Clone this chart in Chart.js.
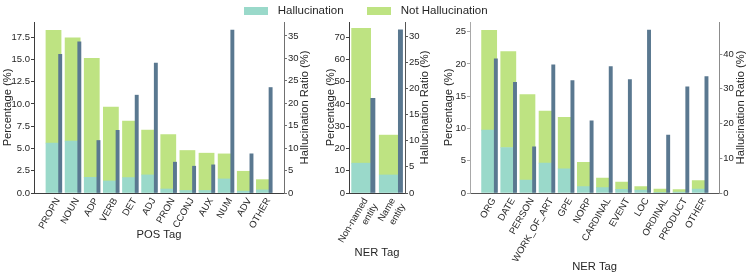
<!DOCTYPE html>
<html><head><meta charset="utf-8">
<script src="https://cdn.jsdelivr.net/npm/chart.js@4"></script>
<style>
html,body{margin:0;padding:0;background:#fff;}
#wrap{position:relative;width:747px;height:275px;overflow:hidden;font-family:"Liberation Sans",Arial,sans-serif;color:#262626}
canvas{position:absolute;top:0}
.sw{position:absolute;top:7px;width:23.5px;height:8px}
.lt{position:absolute;top:5.3px;font-size:11.5px;line-height:11.5px;white-space:nowrap}
</style></head><body>
<div id="wrap">
<canvas id="c1" width="320" height="275" style="left:0"></canvas>
<canvas id="c2" width="116" height="275" style="left:320px"></canvas>
<canvas id="c3" width="311" height="275" style="left:436px"></canvas>
<div class="sw" style="left:244px;background:#9ad9ca"></div><div class="lt" style="left:277.7px">Hallucination</div>
<div class="sw" style="left:367.3px;background:#bee382"></div><div class="lt" style="left:400.7px">Not Hallucination</div>
</div>
<script>
// ---- data ----
const posTags = ['PROPN','NOUN','ADP','VERB','DET','ADJ','PRON','CCONJ','AUX','NUM','ADV','OTHER'];
const posHalluc = [5.6, 5.82, 1.76, 1.35, 1.73, 2.03, 0.45, 0.28, 0.28, 1.58, 0.21, 0.35];
const posNotHalluc = [12.65, 11.6, 13.34, 8.3, 6.34, 5.03, 6.12, 4.49, 4.19, 2.81, 2.23, 1.15];
const posRatio = [30.9, 33.7, 11.7, 13.96, 21.8, 28.96, 6.87, 5.97, 6.27, 36.3, 8.73, 23.5];

const entTags = [['Non-named','entity'], ['Name','entity']];
const entHalluc = [13.4, 8.1];
const entNotHalluc = [60.6, 17.9];
const entRatio = [18.1, 31.2];

const nerTags = ['ORG','DATE','PERSON','WORK_OF_ART','GPE','NORP','CARDINAL','EVENT','LOC','ORDINAL','PRODUCT','OTHER'];
const nerHalluc = [9.75, 7.05, 2.02, 4.62, 3.73, 0.99, 0.83, 0.57, 0.47, 0.1, 0.16, 0.62];
const nerNotHalluc = [15.45, 14.85, 13.23, 8.08, 7.99, 3.78, 1.5, 1.14, 0.52, 0.52, 0.36, 1.3];
const nerRatio = [38.65, 31.9, 13.3, 36.9, 32.4, 20.8, 36.4, 32.7, 46.9, 16.7, 30.6, 33.5];

// ---- style ----
const TEAL = '#9ad9ca', GREEN = '#bee382', DARK = '#5a7890';
const TXT = '#262626';
Chart.defaults.font.family = "'Liberation Sans', Arial, sans-serif";
Chart.defaults.color = TXT;
const tickFont = {size: 9.5};
const titleFont = {size: 11.2};

const rightTitle = {
  id: 'rightTitle',
  afterDraw(chart, args, opts) {
    const a = chart.chartArea, ctx = chart.ctx;
    ctx.save();
    ctx.font = titleFont.size + "px 'Liberation Sans', Arial, sans-serif";
    ctx.fillStyle = TXT;
    ctx.translate(opts.x, (a.top + a.bottom) / 2);
    ctx.rotate(-Math.PI / 2);
    ctx.textAlign = 'center';
    ctx.textBaseline = 'middle';
    ctx.fillText(opts.text, 0, 0);
    ctx.restore();
  }
};

function makePanel(id, p) {
  const H = 275;
  const plotW = p.canvasW - p.leftW - p.rightW;
  const unit = plotW / (p.xMax - p.xMin);
  new Chart(document.getElementById(id), {
    type: 'bar',
    data: {
      datasets: [
        {label: 'Hallucination', data: p.halluc.map((v, i) => ({x: i, y: v})), backgroundColor: TEAL,
         yAxisID: 'y', stack: 's', grouped: false, barThickness: p.greenW * unit, order: 1},
        {label: 'Not Hallucination', data: p.notH.map((v, i) => ({x: i, y: v})), backgroundColor: GREEN,
         yAxisID: 'y', stack: 's', grouped: false, barThickness: p.greenW * unit, order: 1},
        {label: 'Hallucination Ratio', data: p.ratio.map((v, i) => ({x: i + p.darkOff, y: v})), backgroundColor: DARK,
         yAxisID: 'y2', stack: 'r', grouped: false, barThickness: p.darkW * unit, order: -1}
      ]
    },
    options: {
      responsive: false, animation: false, devicePixelRatio: 1,
      layout: {padding: {top: 22, left: 0, right: 0, bottom: 0}},
      plugins: {legend: {display: false}, tooltip: {enabled: false},
                rightTitle: {x: p.rtX, text: 'Hallucination Ratio (%)'}},
      scales: {
        x: {type: 'linear', position: 'bottom', min: p.xMin, max: p.xMax, offset: false,
            afterBuildTicks: s => { s.ticks = p.labels.map((_, i) => ({value: i})); },
            ticks: {autoSkip: false, minRotation: 60, maxRotation: 60, padding: 3, labelOffset: 4.5,
                    font: tickFont, color: TXT, callback: v => p.labels[v]},
            grid: {display: false, drawTicks: false},
            border: {display: true, color: p.bottomC, width: 1},
            title: {display: true, text: p.xTitle, font: titleFont, color: TXT, padding: {top: 0, bottom: p.xTitlePad}},
            afterFit: s => { s.height = H - 193; s.paddingLeft = 0; s.paddingRight = 0; }},
        y: {type: 'linear', position: 'left', min: 0, max: p.yMax, stacked: true,
            ticks: {stepSize: p.yStep, includeBounds: false, font: tickFont, color: TXT, padding: 1,
                    callback: p.yFmt},
            grid: {display: true, drawOnChartArea: false, drawTicks: true, tickLength: 3, color: p.leftC},
            border: {display: true, color: p.leftC, width: 1},
            title: {display: true, text: 'Percentage (%)', font: titleFont, color: TXT, padding: {top: p.ltPad, bottom: 0}},
            afterFit: s => { s.width = p.leftW; }},
        y2: {type: 'linear', position: 'right', min: 0, max: p.y2Max,
            ticks: {stepSize: p.y2Step, includeBounds: false, font: tickFont, color: TXT, padding: 1},
            grid: {display: true, drawOnChartArea: false, drawTicks: true, tickLength: 3, color: p.rightC},
            border: {display: true, color: p.rightC, width: 1},
            title: {display: false, text: 'Hallucination Ratio (%)'},
            afterFit: s => { s.width = p.rightW; }}
      }
    },
    plugins: [rightTitle]
  });
}

makePanel('c1', {canvasW: 320, labels: posTags, halluc: posHalluc, notH: posNotHalluc, ratio: posRatio,
  xMin: -1.02, xMax: 12.05, greenW: 0.79, darkW: 0.17, darkOff: 0.35,
  yMax: 19.19, yStep: 2.5, yFmt: v => v.toFixed(1), y2Max: 38.1, y2Step: 5,
  leftW: 34, rightW: 36, leftC: '#3d3d3d', rightC: '#707070', bottomC: '#3d3d3d',
  xTitle: 'POS Tag', xTitlePad: 33.8, ltPad: 0.8, rtX: 304.5});

makePanel('c2', {canvasW: 116, labels: entTags, halluc: entHalluc, notH: entNotHalluc, ratio: entRatio,
  xMin: -0.44, xMax: 1.59, greenW: 0.69, darkW: 0.155, darkOff: 0.425,
  yMax: 76.8, yStep: 10, yFmt: v => String(v), y2Max: 32.7, y2Step: 5,
  leftW: 29, rightW: 31, leftC: '#3d3d3d', rightC: '#555555', bottomC: '#3d3d3d',
  xTitle: 'NER Tag', xTitlePad: 15.3, ltPad: 3.8, rtX: 105});

makePanel('c3', {canvasW: 311, labels: nerTags, halluc: nerHalluc, notH: nerNotHalluc, ratio: nerRatio,
  xMin: -1.0, xMax: 12.02, greenW: 0.79, darkW: 0.17, darkOff: 0.35,
  yMax: 26.5, yStep: 5, yFmt: v => String(v), y2Max: 49.25, y2Step: 10,
  leftW: 34, rightW: 27.7, leftC: '#a8a8a8', rightC: '#8c8c8c', bottomC: '#555555',
  xTitle: 'NER Tag', xTitlePad: 1.3, ltPad: 6.3, rtX: 304.5});
</script>
</body></html>
